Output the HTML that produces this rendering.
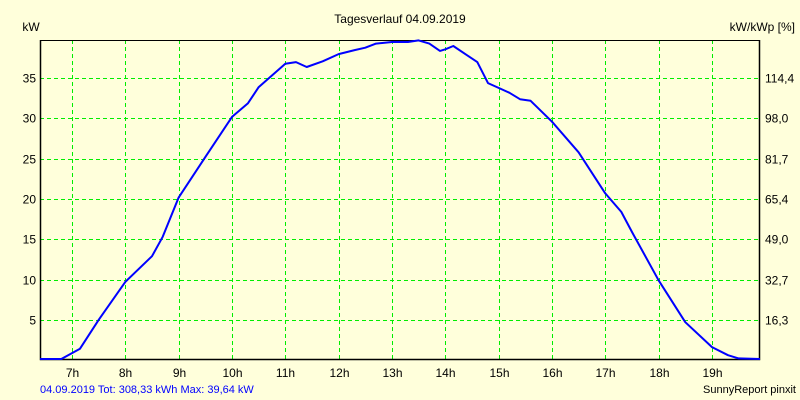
<!DOCTYPE html>
<html><head><meta charset="utf-8"><style>
body{margin:0;background:#ffffdb}
svg{display:block;font-family:"Liberation Sans",sans-serif;font-size:12px}
</style></head><body>
<svg id="c" width="800" height="400">
<rect width="800" height="400" fill="#ffffdb"/>
<text x="400" y="23" text-anchor="middle" fill="#000">Tagesverlauf 04.09.2019</text>
<text x="31" y="31" text-anchor="middle" fill="#000">kW</text>
<text x="795" y="31" text-anchor="end" fill="#000">kW/kWp [%]</text>
<text x="40" y="393" fill="#0000ff" font-size="11">04.09.2019 Tot: 308,33 kWh Max: 39,64 kW</text>
<text x="796" y="393" text-anchor="end" fill="#000" font-size="11">SunnyReport pinxit</text>
<g id="grid"></g><g id="axes"></g><g id="series"></g>
</svg>
<script>
const hours=[6.4,6.8,7.15,7.5,8,8.5,8.7,9,9.5,10,10.3,10.5,11,11.2,11.4,11.7,12,12.3,12.5,12.7,13,13.3,13.5,13.7,13.9,14.0,14.15,14.4,14.6,14.8,15,15.2,15.4,15.6,16,16.5,17,17.3,17.5,18,18.5,19,19.3,19.5,19.9];
const power=[0,0.1,1.4,5,9.7,12.9,15.3,20.2,25.2,30.2,31.9,33.9,36.8,37,36.4,37.1,38,38.5,38.8,39.3,39.5,39.5,39.7,39.3,38.4,38.6,39,37.9,37,34.4,33.8,33.2,32.4,32.2,29.6,25.8,20.7,18.4,15.9,9.9,4.7,1.6,0.6,0.2,0];
const xTicks=[7,8,9,10,11,12,13,14,15,16,17,18,19];
const yTicks=[5,10,15,20,25,30,35];
const y2Labels=["16,3","32,7","49,0","65,4","81,7","98,0","114,4"];
const L=40,R=760,T=40,B=360;
const xs=h=>72+(h-7)*53.33;
const ys=v=>B-v*8.05;
const NS="http://www.w3.org/2000/svg";
const g=document.getElementById('grid'),a=document.getElementById('axes'),s=document.getElementById('series');
function mk(tag,attrs,parent){const e=document.createElementNS(NS,tag);for(const k in attrs)e.setAttribute(k,attrs[k]);parent.appendChild(e);return e;}
xTicks.forEach(h=>{
  const x=Math.round(xs(h))+0.5;
  const l=mk('line',{x1:x,x2:x,y1:T,y2:B,stroke:'#00ee00','stroke-dasharray':'4,3'},g);
  
  
  const t=mk('text',{x:x,y:B+17,'text-anchor':'middle',fill:'#000'},a);
  t.textContent=h+'h';
  
  
});
yTicks.forEach((v,i)=>{
  const y=Math.round(ys(v))+0.5;
  const l=mk('line',{x1:L,x2:R,y1:y,y2:y,stroke:'#00ee00','stroke-dasharray':'4,3'},g);
  
  
  const t=mk('text',{x:L-4,y:y+4,'text-anchor':'end',fill:'#000'},a);
  t.textContent=v;
  
  
  const t2=mk('text',{x:R+5,y:y+4,fill:'#000'},a);
  t2.textContent=y2Labels[i];
  
  
});
const ax=mk('path',{d:`M${L+0.5} ${T}V${B-0.5}H${R-0.5}V${T}`,fill:'none',stroke:'#000','stroke-width':1.5},a);


const tp=mk('line',{x1:L,x2:R,y1:T+0.5,y2:T+0.5,stroke:'#000'},a);


const pts=hours.map((h,i)=>xs(h).toFixed(1)+','+Math.min(ys(power[i]),B-1).toFixed(1)).join(' ');
const pl=mk('polyline',{points:pts,fill:'none',stroke:'#0000ff','stroke-width':2,'stroke-linejoin':'round'},s);


</script>
</body></html>
